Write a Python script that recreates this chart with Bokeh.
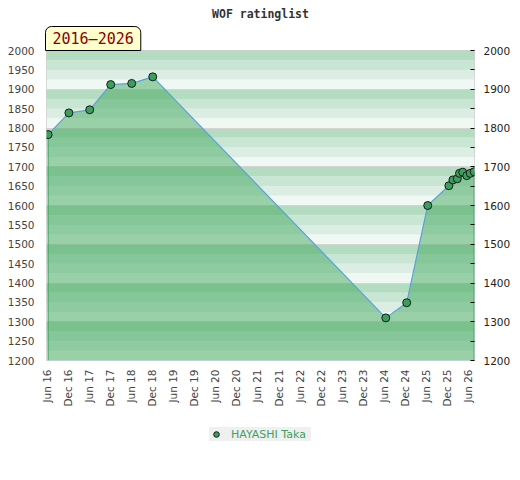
import math
import pandas as pd
from bokeh.plotting import figure
from bokeh.layouts import column
from bokeh.models import (Range1d, LinearAxis, FixedTicker, DatetimeTickFormatter,
                          BoxAnnotation, Title, Legend, LegendItem)
from bokeh.embed import file_html
from bokeh.resources import INLINE

# ---- data ----
dates = ["2016-06-15", "2016-12-12", "2017-06-10", "2017-12-09", "2018-06-09",
         "2018-12-08", "2024-06-17", "2024-12-15", "2025-06-15", "2025-12-15",
         "2026-01-19", "2026-02-26", "2026-03-17", "2026-04-14", "2026-05-19",
         "2026-06-18", "2026-07-22"]
ratings = [1783, 1839, 1847, 1912, 1915, 1932, 1310, 1349, 1600, 1651,
           1666, 1669, 1683, 1686, 1677, 1683, 1687]
tick_dates = ["2016-06-01", "2016-12-01", "2017-06-01", "2017-12-01", "2018-06-01",
              "2018-12-01", "2019-06-01", "2019-12-01", "2020-06-01", "2020-12-01",
              "2021-06-01", "2021-12-01", "2022-06-01", "2022-12-01", "2023-06-01",
              "2023-12-01", "2024-06-01", "2024-12-01", "2025-06-01", "2025-12-01",
              "2026-06-01"]
left_ticks = [1200, 1250, 1300, 1350, 1400, 1450, 1500, 1550, 1600, 1650, 1700,
              1750, 1800, 1850, 1900, 1950, 2000]
right_ticks = [1200, 1300, 1400, 1500, 1600, 1700, 1800, 1900, 2000]
right_minor = [1250, 1350, 1450, 1550, 1650, 1750, 1850, 1950]
series_name = "HAYASHI Taka"
title_text = "WOF ratinglist"
period_text = "2016\u20132026"
Y_MIN, Y_MAX = 1200, 2000
X_START, X_END = "2016-06-01", "2026-07-25"

GREEN = "#3a9f5c"

x = pd.to_datetime(dates)
ticks_ms = [pd.Timestamp(d).value // 10**6 for d in tick_dates]

p = figure(width=520, height=415, x_axis_type="datetime",
           x_range=Range1d(pd.Timestamp(X_START), pd.Timestamp(X_END)),
           y_range=Range1d(Y_MIN, Y_MAX), title=None,
           min_border_left=46, min_border_right=46, min_border_top=50,
           min_border_bottom=55, output_backend="svg", toolbar_location=None,
           background_fill_color="white", border_fill_color="white")
p.outline_line_color = "#d0d0d0"

# period badge (closest to frame) and main title
badge = Title(text=period_text, align="left", offset=-1, standoff=0,
              text_font="DejaVu Sans Mono", text_font_size="15px",
              text_font_style="normal", text_color="#8b0000",
              background_fill_color="#ffffcc", border_line_color="black",
              border_line_width=1,
              padding=dict(left=7, right=7, top=3, bottom=3),
              border_radius=dict(top_left=6, top_right=6, bottom_right=0, bottom_left=0))
p.add_layout(badge, "above")
main_title = Title(text=title_text, align="center", standoff=8,
                   text_font="DejaVu Sans Mono", text_font_size="11.5px",
                   text_font_style="bold", text_color="#333333")
p.add_layout(main_title, "above")

# background stripes
stripe_colors = ["#eff8f2", "#dceee3", "#c8e6d3", "#b3dcc1"]
for base in range(Y_MIN, Y_MAX, 100):
    for i, c in enumerate(stripe_colors):
        p.add_layout(BoxAnnotation(bottom=base + 25 * i, top=base + 25 * (i + 1),
                                   fill_color=c, fill_alpha=1, line_color=None,
                                   level="image"))

# axes
xa = p.xaxis[0]
xa.ticker = FixedTicker(ticks=ticks_ms)
fmt = "%b %y"
xa.formatter = DatetimeTickFormatter(days=fmt, months=fmt, years=fmt, hours=fmt)
xa.major_label_orientation = math.pi / 2
xa.major_label_text_font = "DejaVu Sans"
xa.major_label_text_font_size = "10.5px"
xa.major_label_text_color = "#444444"
xa.major_tick_line_color = None
xa.minor_tick_line_color = None
xa.axis_line_color = None
xa.major_tick_out = 0
xa.major_label_standoff = 9

ya = p.yaxis[0]
ya.ticker = FixedTicker(ticks=left_ticks)
ya.major_label_text_font = "DejaVu Sans"
ya.major_label_text_font_size = "10.5px"
ya.major_label_text_color = "#444444"
ya.major_tick_line_color = None
ya.minor_tick_line_color = None
ya.axis_line_color = None
ya.major_tick_out = 0
ya.major_label_standoff = 12

ra = LinearAxis(ticker=FixedTicker(ticks=right_ticks, minor_ticks=right_minor))
ra.major_label_text_font = "DejaVu Sans"
ra.major_label_text_font_size = "10.5px"
ra.major_label_text_color = "#222222"
ra.axis_line_color = None
ra.major_tick_in = 4
ra.major_tick_out = 0
ra.minor_tick_in = 4
ra.minor_tick_out = 0
ra.major_tick_line_color = "black"
ra.minor_tick_line_color = "black"
ra.major_label_standoff = 9
p.add_layout(ra, "right")

p.xgrid.grid_line_color = None
p.ygrid.ticker = FixedTicker(ticks=right_ticks)
p.ygrid.grid_line_color = "#d4d4d4"
p.ygrid.grid_line_width = 1

# data glyphs
p.varea(x=x, y1=Y_MIN, y2=ratings, fill_color="#3aa454", fill_alpha=0.47)
p.segment(x0=[x[0], x[-1]], y0=[Y_MIN, Y_MIN], x1=[x[0], x[-1]],
          y1=[ratings[0], ratings[-1]], line_color=GREEN, line_width=1)
p.line(x, ratings, line_color="#5aa2da", line_width=1.2)
p.scatter(x, ratings, size=8, fill_color=GREEN, line_color="#1a1a1a", line_width=1)

# legend strip below the chart (key glyph sits outside the strip's visible range)
lg = figure(width=520, height=60, output_backend="svg", toolbar_location=None,
            min_border=0, x_range=Range1d(0, 1), y_range=Range1d(0, 1))
lg.axis.visible = False
lg.grid.visible = False
lg.outline_line_color = None
key = lg.scatter(x=[-10], y=[-10], size=7, fill_color=GREEN, line_color="#1a1a1a",
                 line_width=1)
legend = Legend(items=[LegendItem(label=series_name, renderers=[key])],
                orientation="horizontal", location="top_center",
                background_fill_color="#f0f0f0", background_fill_alpha=1,
                border_line_color=None, label_text_color="#3aa35c",
                label_text_font="DejaVu Sans", label_text_font_size="11px",
                glyph_width=14, glyph_height=14, label_height=14, label_width=80,
                padding=4, label_standoff=8, margin=12)
lg.add_layout(legend)

open("out.html", "w").write(file_html(column(p, lg, spacing=0), INLINE))
